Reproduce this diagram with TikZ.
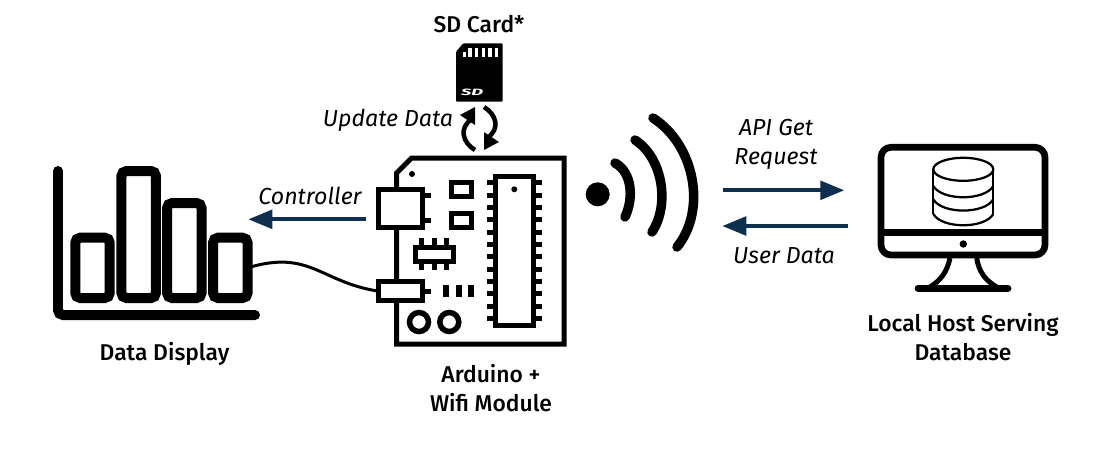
\documentclass[tikz,border=0pt]{standalone}
\usepackage{fontspec}
\setmainfont{Fira Sans}[UprightFont=* Medium,ItalicFont=* Italic,BoldFont=* Bold,BoldItalicFont=* Bold Italic]
\usetikzlibrary{arrows.meta}

\definecolor{linkblue}{HTML}{0E2F4E}

\tikzset{
  title/.style={font=\fontsize{13}{16.4}\selectfont, align=center, inner sep=0pt},
  link/.style={font=\fontsize{13.2}{16.4}\selectfont\itshape, align=center, inner sep=0pt},
  flow/.style={draw=linkblue, line width=0.08cm, -{Triangle[length=0.48cm,width=0.37cm]}},
  barbox/.style={draw, line width=0.2cm, rounded corners=0.1cm, minimum width=0.69cm, outer sep=0pt, inner sep=0pt, anchor=south},
  pcb/.style={line width=0.1cm},
  wave/.style={line width=0.19cm, line cap=round},
}

\begin{document}
\begin{tikzpicture}[x=0.02cm,y=-0.02cm]
    \useasboundingbox (0,0) rectangle (1100,461);

    % data display
    \draw [line width=0.2cm, line cap=round, rounded corners=0.1cm] (58,171) -- (58,315) -- (255,315);
    \foreach \i/\x/\h in {1/92.5/60.3, 2/138.7/127, 3/184.3/95, 4/230.3/60.3}
      \node [barbox, minimum height=\h*0.02cm] (bar\i) at (\x,298) {};

    % board
    \draw [pcb] (396.7,344) -- (396.7,173) -- (411.7,158) -- (564,158) -- (564,344) -- cycle;
    \draw [pcb, fill=white] (378.5,189) rectangle (422.5,227);
    \foreach \y in {195,220}
      \draw [pcb] (422.5,\y) -- (431,\y);
    \foreach \y in {182.3,213.3}
      \draw [pcb] (451.7,\y) rectangle ++(20,14);
    \draw [pcb] (415,247.3) rectangle (453.3,261.7);
    \foreach \x in {421.7,434,446.7} {
      \draw [pcb] (\x,238) -- (\x,247);
      \draw [pcb] (\x,262) -- (\x,270);
    }
    \node [draw, pcb, fill=white, minimum width=0.88cm, minimum height=0.38cm, inner sep=0pt, outer sep=0pt] (port) at (400.5,291.2) {};
    \draw [pcb] (422.5,291.3) -- (431,291.3);
    \foreach \x in {446.3,458.7,471}
      \draw [line width=0.12cm] (\x,285) -- (\x,297.3);
    \foreach \x in {419,449.3}
      \draw [line width=0.11cm] (\x,322) circle (9.5);
    \draw [pcb] (495.7,176.7) rectangle (533.3,325.7);
    \foreach \n in {0,...,11} {
      \draw [pcb] (487,182.7+\n*12.33) -- (495.7,182.7+\n*12.33);
      \draw [pcb] (533.3,182.7+\n*12.33) -- (542,182.7+\n*12.33);
    }
    \fill (412,174) circle (3);
    \fill (514.3,189.3) circle (3);

    % cable
    \draw [line width=0.06cm] (bar4.east) .. controls (310,249) and (320,282) .. (port.west);

    % sd card
    \fill [rounded corners=0.02cm] (456,101.7) -- (456,51.7) -- (463.3,43.3) -- (502.7,43.3) -- (502.7,101.7) -- cycle;
    \foreach \x in {468.3,475,481.7,488.3,495}
      \fill [white] (\x,48.3) rectangle ++(3.4,9);
    \fill [white] (462.5,52) rectangle ++(3,5);
    \node [white, inner sep=0pt, font=\fontsize{6.5}{7}\selectfont\bfseries\itshape, xscale=1.6, yscale=0.8, transform shape] (sdlogo) at (472,92) {SD};

    \draw [line width=0.09cm] (475,150) .. controls (463,143) and (458,128) .. (472,119);
    \fill (460,115) -- (475,107) -- (475,125) -- cycle;
    \draw [line width=0.09cm] (484,107) .. controls (496,114) and (501,129) .. (487,138);
    \fill (499,142) -- (484,150) -- (484,132) -- cycle;

    % wifi
    \fill (597.7,194.3) circle (12);
    \draw [wave] (615,163) .. controls (632,172) and (634,198) .. (625,217);
    \draw [wave] (635,140) .. controls (663,158) and (670,205) .. (652,232);
    \draw [wave] (653,118) .. controls (695,145) and (707,210) .. (677,247);

    % monitor
    \draw [line width=0.134cm, rounded corners=0.2cm] (881,147.3) rectangle (1045,255);
    \draw [line width=0.134cm] (881,232.7) -- (1045,232.7);
    \fill (963.3,244) circle (3.7);
    \draw [line width=0.1cm] (950,258) .. controls (947,272) and (941,280) .. (930,287);
    \draw [line width=0.1cm] (976.7,258) .. controls (979,272) and (985,280) .. (996.7,287);
    \draw [line width=0.134cm, line cap=round] (918,288.3) -- (1008,288.3);

    % database
    \draw [line width=0.045cm] (963.3,169.3) ellipse (30 and 11.5);
    \draw [line width=0.045cm] (933.3,169.3) -- (933.3,214) (993.3,169.3) -- (993.3,214);
    \foreach \y in {186,199.3,214}
      \draw [line width=0.045cm] (933.3,\y) .. controls (942,\y+15) and (984.6,\y+15) .. (993.3,\y);

    % labels
    \node [title] (sdtitle) at (479,24) {SD Card*};
    \node [title] (displaytitle) at (164.5,353.5) {Data Display};
    \node [title] (boardtitle) at (491,388) {Arduino +\\Wifi Module};
    \node [title] (hosttitle) at (963,337) {Local Host Serving\\Database};
    \node [link] (updatetext) at (388,120.5) {Update Data};
    \node [link] (controltext) at (310,195.5) {Controller};
    \node [link] (apitext) at (776,144.5) {API Get\\Request};
    \node [link] (usertext) at (784,255.5) {User Data};

    % flows
    \coordinate (ctrlA) at (366,219.3);
    \coordinate (ctrlB) at (248.3,219.3);
    \coordinate (apiA) at (722.7,190.3);
    \coordinate (apiB) at (844.3,190.3);
    \coordinate (userA) at (847.7,226);
    \coordinate (userB) at (722.3,226);
    \draw [flow] (ctrlA) -- (ctrlB);
    \draw [flow] (apiA) -- (apiB);
    \draw [flow] (userA) -- (userB);
\end{tikzpicture}
\end{document}
